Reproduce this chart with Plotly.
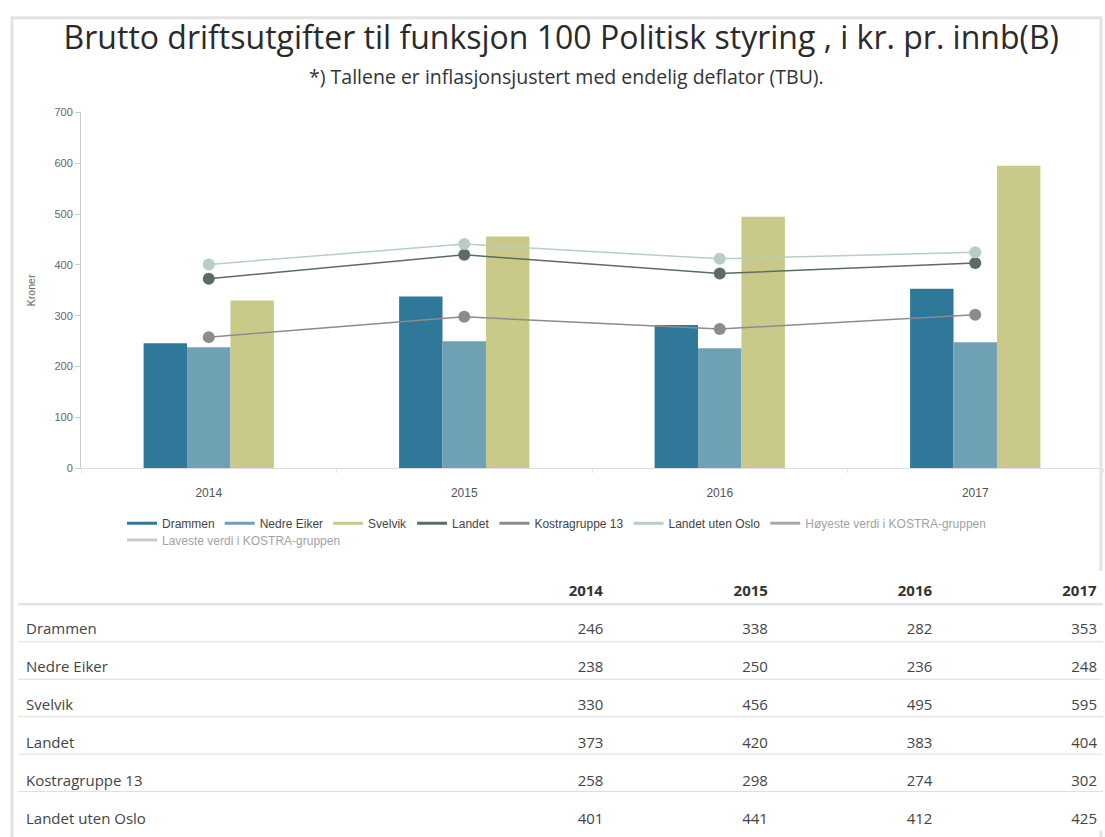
import plotly.graph_objects as go

years = ["2014", "2015", "2016", "2017"]
drammen = [246, 338, 282, 353]
nedre_eiker = [238, 250, 236, 248]
svelvik = [330, 456, 495, 595]
landet = [373, 420, 383, 404]
kostragruppe13 = [258, 298, 274, 302]
landet_uten_oslo = [401, 441, 412, 425]
# hidden series (legend only in the original, values not shown)
hoyeste = [None, None, None, None]
laveste = [None, None, None, None]

bar_series = [
    ("Drammen", drammen, "#2f7899"),
    ("Nedre Eiker", nedre_eiker, "#6fa1b5"),
    ("Svelvik", svelvik, "#c9c98a"),
]
line_series = [
    ("Landet", landet, "#5b6b66"),
    ("Kostragruppe 13", kostragruppe13, "#8c8c8c"),
    ("Landet uten Oslo", landet_uten_oslo, "#b7cec7"),
]
hidden_series = [
    ("Høyeste verdi i KOSTRA-gruppen", hoyeste, "#555555", "legend"),
    ("Laveste verdi i KOSTRA-gruppen", laveste, "#9a9a9a", "legend2"),
]

table_rows = [
    ("Drammen", drammen),
    ("Nedre Eiker", nedre_eiker),
    ("Svelvik", svelvik),
    ("Landet", landet),
    ("Kostragruppe 13", kostragruppe13),
    ("Landet uten Oslo", landet_uten_oslo),
]

fig = go.Figure()

for name, vals, col in bar_series:
    fig.add_trace(go.Bar(x=years, y=vals, name=name, marker_color=col,
                         marker_line_width=0, showlegend=False))
for name, vals, col in line_series:
    fig.add_trace(go.Scatter(x=years, y=vals, name=name, mode="lines+markers",
                             line=dict(color=col, width=1.5),
                             marker=dict(color=col, size=12),
                             showlegend=False))

# legend entries (line symbols like the original)
for name, vals, col in bar_series + line_series:
    fig.add_trace(go.Scatter(x=[None], y=[None], name=name, mode="lines",
                             line=dict(color=col, width=3), legend="legend"))
for name, vals, col, lg in hidden_series:
    fig.add_trace(go.Scatter(x=years, y=vals, name=name, mode="lines",
                             line=dict(color=col, width=3), visible="legendonly",
                             legend=lg))

W, H = 1105, 837
def py(p):
    return 1 - p / H
def px(p):
    return p / W

# table
col_labels = [""] + years
cells = [[r[0] for r in table_rows]] + [[r[1][i] for r in table_rows] for i in range(4)]
fig.add_trace(go.Table(
    domain=dict(x=[px(18), 1.0], y=[0, py(574)]),
    columnwidth=[430, 165, 165, 165, 165],
    header=dict(values=["<b>%s</b>" % c for c in col_labels],
                align=["left", "right", "right", "right", "right"],
                fill_color="white", line_color="white", height=43,
                font=dict(family="Open Sans", size=15, color="#333333")),
    cells=dict(values=cells,
               align=["left", "right", "right", "right", "right"],
               fill_color="white", line_color="white", height=38,
               font=dict(family="Open Sans", size=15, color="#444444")),
))

shapes = [dict(type="rect", xref="paper", yref="paper", x0=px(12), x1=px(1101),
               y0=-0.02, y1=py(12), line=dict(color="#e4e4e4", width=3), layer="below")]
sep_y = [607, 645, 683, 721, 759, 797]
for i, yy in enumerate(sep_y):
    shapes.append(dict(type="line", xref="paper", yref="paper", x0=px(18), x1=px(1103),
                       y0=py(yy), y1=py(yy),
                       line=dict(color="#dddddd", width=2 if i == 0 else 1)))

legend_style = dict(orientation="h", xanchor="left", yanchor="top",
                    font=dict(family="Liberation Sans", size=12, color="#444444"),
                    itemwidth=30, tracegroupgap=0, bgcolor="rgba(0,0,0,0)")

fig.update_layout(
    width=W, height=H,
    margin=dict(l=0, r=0, t=0, b=0),
    paper_bgcolor="white", plot_bgcolor="white",
    barmode="group", bargap=0.49, bargroupgap=0,
    font=dict(family="Liberation Sans", size=11, color="#555555"),
    title=dict(text="Brutto driftsutgifter til funksjon 100 Politisk styring , i kr. pr. innb(B)",
               x=0.508, xanchor="center", y=py(38), yanchor="middle",
               font=dict(family="Open Sans", size=32, color="#2a2a2a")),
    annotations=[dict(text="*) Tallene er inflasjonsjustert med endelig deflator (TBU).",
                      xref="paper", yref="paper", x=0.513, y=py(72), xanchor="center",
                      yanchor="middle", showarrow=False,
                      font=dict(family="Open Sans", size=19.5, color="#333333"))],
    xaxis=dict(domain=[px(81), px(1103)], type="category", range=[-0.5, 3.5],
               showline=True, linecolor="#d8dde6", linewidth=1,
               ticks="outside", tickson="boundaries", ticklen=4, tickcolor="#e6e6e6",
               ticklabelstandoff=13,
               showgrid=False, tickfont=dict(size=12, color="#555555")),
    yaxis=dict(domain=[py(469), py(108)], range=[0, 700], dtick=100,
               showline=True, linecolor="#cccccc", linewidth=1,
               ticks="outside", ticklen=5, tickcolor="#cccccc",
               showgrid=False, zeroline=False,
               tickfont=dict(size=11, color="#666666"),
               title=dict(text="Kroner", font=dict(size=10.5, color="#666666"), standoff=16)),
    legend=dict(x=px(122), y=py(510), **legend_style),
    legend2=dict(x=px(122), y=py(527), **legend_style),
    shapes=shapes,
)

fig.write_html("out.html")
